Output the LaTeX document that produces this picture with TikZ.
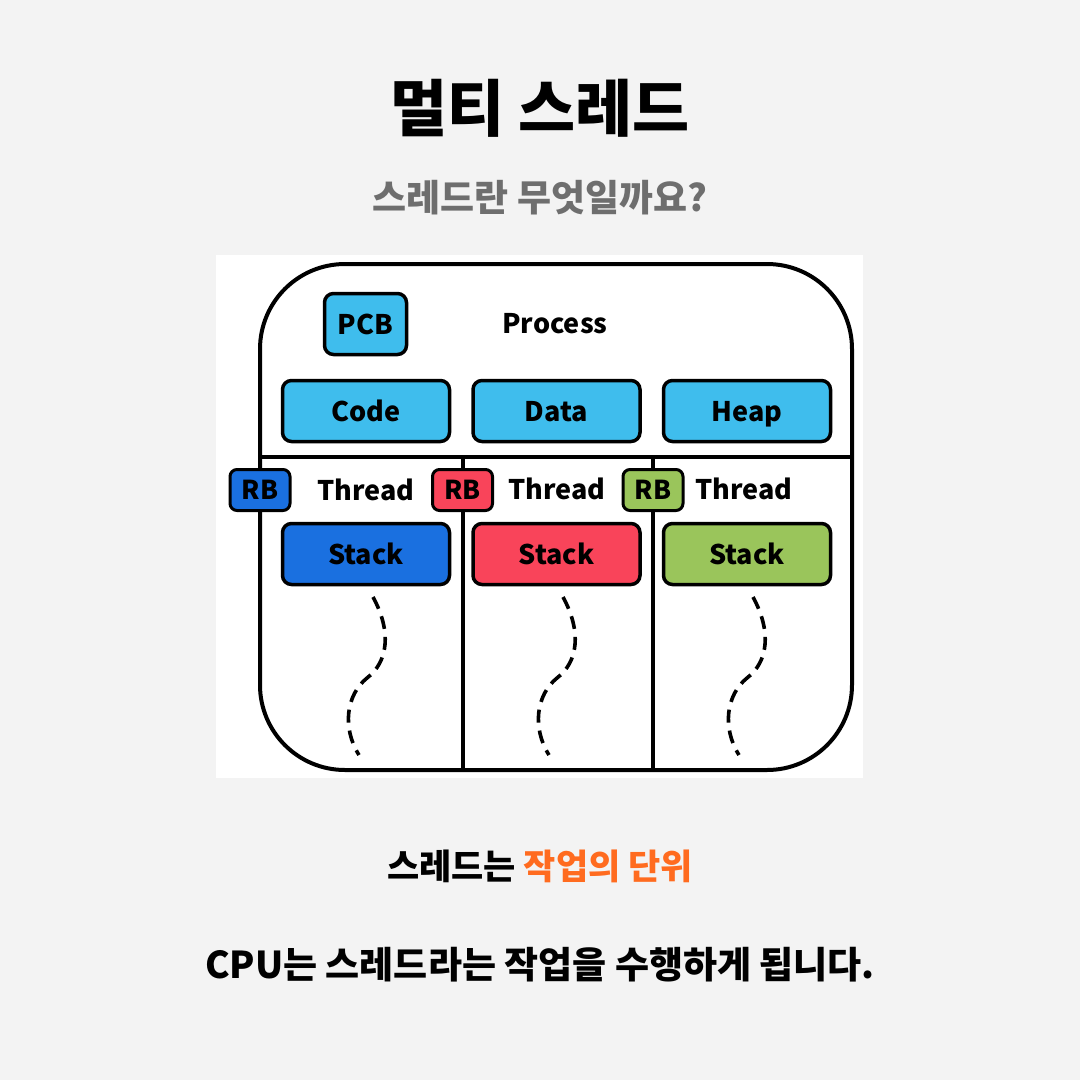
\documentclass[tikz,border=0pt]{standalone}
\usepackage{fontspec}
\setmainfont{Noto Sans CJK KR}
\usetikzlibrary{positioning}
\definecolor{paper}{HTML}{F3F3F3}
\definecolor{skyblue}{HTML}{3FBDED}
\definecolor{rbblue}{HTML}{1A70E0}
\definecolor{rbred}{HTML}{F9445A}
\definecolor{rbgreen}{HTML}{9AC55B}
\definecolor{subgray}{HTML}{6E6E6E}
\definecolor{accent}{HTML}{FF6B1F}
\tikzset{
	seg/.style={draw, line width=3.5pt, rounded corners=9pt, minimum width=167pt, minimum height=61pt, inner sep=0pt, text height=20pt, text depth=0pt, font=\bfseries\fontsize{27}{30}\selectfont},
	rb/.style={draw, line width=3pt, rounded corners=7pt, minimum width=60pt, minimum height=41pt, inner sep=0pt, text height=19pt, text depth=0pt, font=\bfseries\fontsize{26}{30}\selectfont},
	label/.style={inner sep=0pt, text height=20pt, text depth=0pt, font=\bfseries\fontsize{27}{30}\selectfont},
	% dashed thread lines
	thread/.style={line width=3.6pt, dash pattern=on 13pt off 8pt},
}

\begin{document}
\begin{tikzpicture}[x=1pt, y=-1pt]
		\useasboundingbox (0,0) rectangle (1080,1080);
		\fill[paper] (0,0) rectangle (1080,1080);
		\fill[white] (216,255) rectangle (863,778);
		
		\node (title) [inner sep=0pt, font=\bfseries\fontsize{62}{70}\selectfont] at (540,108) {멀티 스레드};
		\node (subtitle) [inner sep=0pt, text=subgray, font=\bfseries\fontsize{37}{42}\selectfont] at (540,198) {스레드란 무엇일까요?};
		
		% process outline
		\draw[line width=4pt, rounded corners=85pt] (260,264) rectangle (852,770);
		\draw[line width=3.5pt] (260,457) -- (852,457);
		\draw[line width=3.5pt] (463,457) -- (463,770);
		\draw[line width=3.5pt] (653,457) -- (653,770);
		
		\node (pcb) [seg, fill=skyblue, minimum width=82pt] at (365.5,324) {PCB};
		\node (process) [label] at (555,323) {Process};
		
		\node (code) [seg, fill=skyblue] at (366,411) {Code};
		\node (data) [seg, fill=skyblue, right=20pt of code] {Data};
		\node (heap) [seg, fill=skyblue, right=20pt of data] {Heap};
		
		\node (rb1) [rb, fill=rbblue] at (260,490) {RB};
		\node (rb2) [rb, fill=rbred] at (462.5,490) {RB};
		\node (rb3) [rb, fill=rbgreen] at (653,490) {RB};
		\node (thread1) [label] at (366,490) {Thread};
		\node (thread2) [label] at (557,489) {Thread};
		\node (thread3) [label] at (744,489) {Thread};
		
		\node (stack1) [seg, fill=rbblue] at (366,554) {Stack};
		\node (stack2) [seg, fill=rbred, right=20pt of stack1] {Stack};
		\node (stack3) [seg, fill=rbgreen, right=20pt of stack2] {Stack};
		
		\foreach \dx in {0,190,380}
			\draw[thread, xshift=\dx pt] (373,597) .. controls (392,632) and (388,662) .. (367,678) .. controls (346,695) and (342,728) .. (359,755);
		
		\node (unit) [inner sep=0pt, font=\bfseries\fontsize{35}{40}\selectfont] at (540,866) {스레드는 \textcolor{accent}{작업의 단위}};
		\node (cpu) [inner sep=0pt, font=\bfseries\fontsize{37}{42}\selectfont] at (540,965) {CPU는 스레드라는 작업을 수행하게 됩니다.};
	\end{tikzpicture}
\end{document}
